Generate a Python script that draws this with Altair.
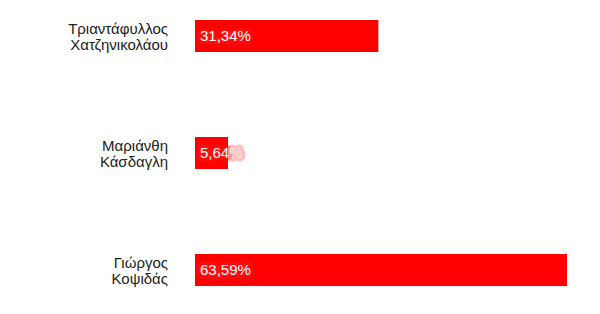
import altair as alt
import pandas as pd

names = ["Τριαντάφυλλος\nΧατζηνικολάου", "Μαριάνθη\nΚάσδαγλη", "Γιώργος\nΚοψιδάς"]
values = [31.34, 5.64, 63.59]
labels = ["31,34%", "5,64%", "63,59%"]

df = pd.DataFrame({"name": names, "value": values, "label": labels})

y = alt.Y("name:N", sort=names, axis=None,
          scale=alt.Scale(paddingInner=0.726, paddingOuter=0.171))
x = alt.X("value:Q", axis=None, scale=alt.Scale(domain=[0, 63.59], nice=False, zero=True))

bars = alt.Chart(df).mark_bar(color="#ff0000").encode(x=x, y=y)

glow = alt.Chart(df).mark_text(align="left", baseline="middle", dx=5, color="#ff2a2a",
                               stroke="#ff2020", strokeWidth=7, strokeOpacity=0.3,
                               fillOpacity=0.6, strokeJoin="round", fontSize=15,
                               font="Liberation Sans").encode(
    x=alt.value(0), y=y, text="label:N")

vals = alt.Chart(df).mark_text(align="left", baseline="middle", dx=5, color="white",
                               fontSize=15, font="Liberation Sans").encode(
    x=alt.value(0), y=y, text="label:N")

names_txt = alt.Chart(df).mark_text(align="right", baseline="middle", lineBreak="\n",
                                    color="#222222", fontSize=15, lineHeight=16, dy=-7,
                                    font="Liberation Sans").encode(
    x=alt.value(-27), y=y, text="name:N")

chart = alt.layer(bars, glow, vals, names_txt).properties(
    width=372, height=306,
    padding={"left": 195, "top": 0, "right": 33, "bottom": 8},
    autosize=alt.AutoSizeParams(type="none"),
    background="white",
).configure_view(stroke=None)

chart.save("out.html", embed_options={"renderer": "svg", "actions": False})
